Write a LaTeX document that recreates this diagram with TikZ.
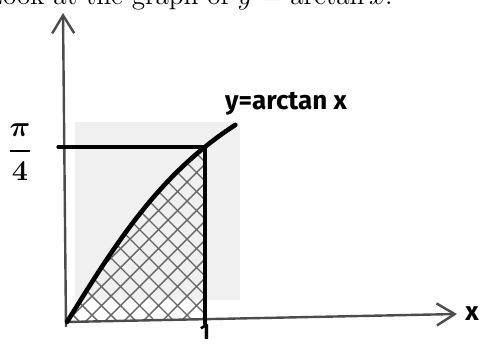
\documentclass[tikz,border=0pt]{standalone}
\usepackage{amsmath}
\usepackage{fontspec}
\newfontfamily\handfont{Fira Sans}
\usetikzlibrary{positioning, arrows.meta}
\tikzset{
    axis/.style={line width=1.2pt, draw=black!70, -{Straight Barb[length=9pt,width=11pt,line width=1.2pt]}}, % hand drawn axes
    pen/.style={line width=1.6pt, line cap=round}, % the marker strokes
    hatch/.style={line width=0.7pt, draw=black!60},
    hand/.style={font=\handfont\bfseries\fontsize{13}{13}\selectfont, inner sep=0pt},
    paper/.style={fill=black!6, draw=none}, % lighter patch of the scan
}

\begin{document}
\begin{tikzpicture}[x=0.5pt, y=-0.5pt]
    \useasboundingbox (0,0) rectangle (482,345);
    \clip (0,0) rectangle (482,345);
    \fill[paper] (75,122) rectangle (240,300);
    % line of the page above, cut by the crop
    \node[anchor=base east, inner sep=0pt, font=\fontsize{13.6}{16}\selectfont] (caption) at (393,4) {Look at the graph of $y = \arctan x$.};

    \coordinate (O) at (66,322);
    \coordinate (ybot) at (66,327);
    \coordinate (ytip) at (63,13);
    \coordinate (xtip) at (457,314);
    \coordinate (P) at (205,147);
    \coordinate (Pleft) at (58,147);
    \coordinate (Pfoot) at (205,324);
    \coordinate (Pbase) at (205,319);

    % hatched area under the curve
    \begin{scope}
        \clip plot[domain=0:1, samples=30] ({67+138*\x},{322-3.892*atan(\x)}) -- (Pbase) -- (O) -- cycle;
        \foreach \k in {-12,...,12} {
            \draw[hatch] ({67+19*\k},340) -- ({67+19*\k+240},100);
            \draw[hatch] ({67+19*\k},100) -- ({67+19*\k+240},340);
        }
    \end{scope}

    \draw[axis] (O) -- (xtip);
    \draw[axis] (ybot) -- (ytip);
    \draw[pen] (Pleft) -- (P);
    \draw[pen] (P) -- (Pfoot);
    \draw[line width=2.3pt, line cap=round] plot[domain=0:1.22, samples=40] ({67+138*\x},{322-3.892*atan(\x)}) coordinate (cend);

    \node[hand, font=\handfont\bfseries\fontsize{11}{11}\selectfont, below=0pt of Pfoot, anchor=north] (one) {1};
    \node[hand] (curvelabel) at (286,104) {y=arctan x};
    \node[inner sep=0pt, font=\fontsize{14}{14}\selectfont\boldmath] (quarterpi) at (20,152) {$\dfrac{\pi}{4}$};
    \node[hand, right=4pt of xtip] (xlabel) {x};
\end{tikzpicture}
\end{document}
